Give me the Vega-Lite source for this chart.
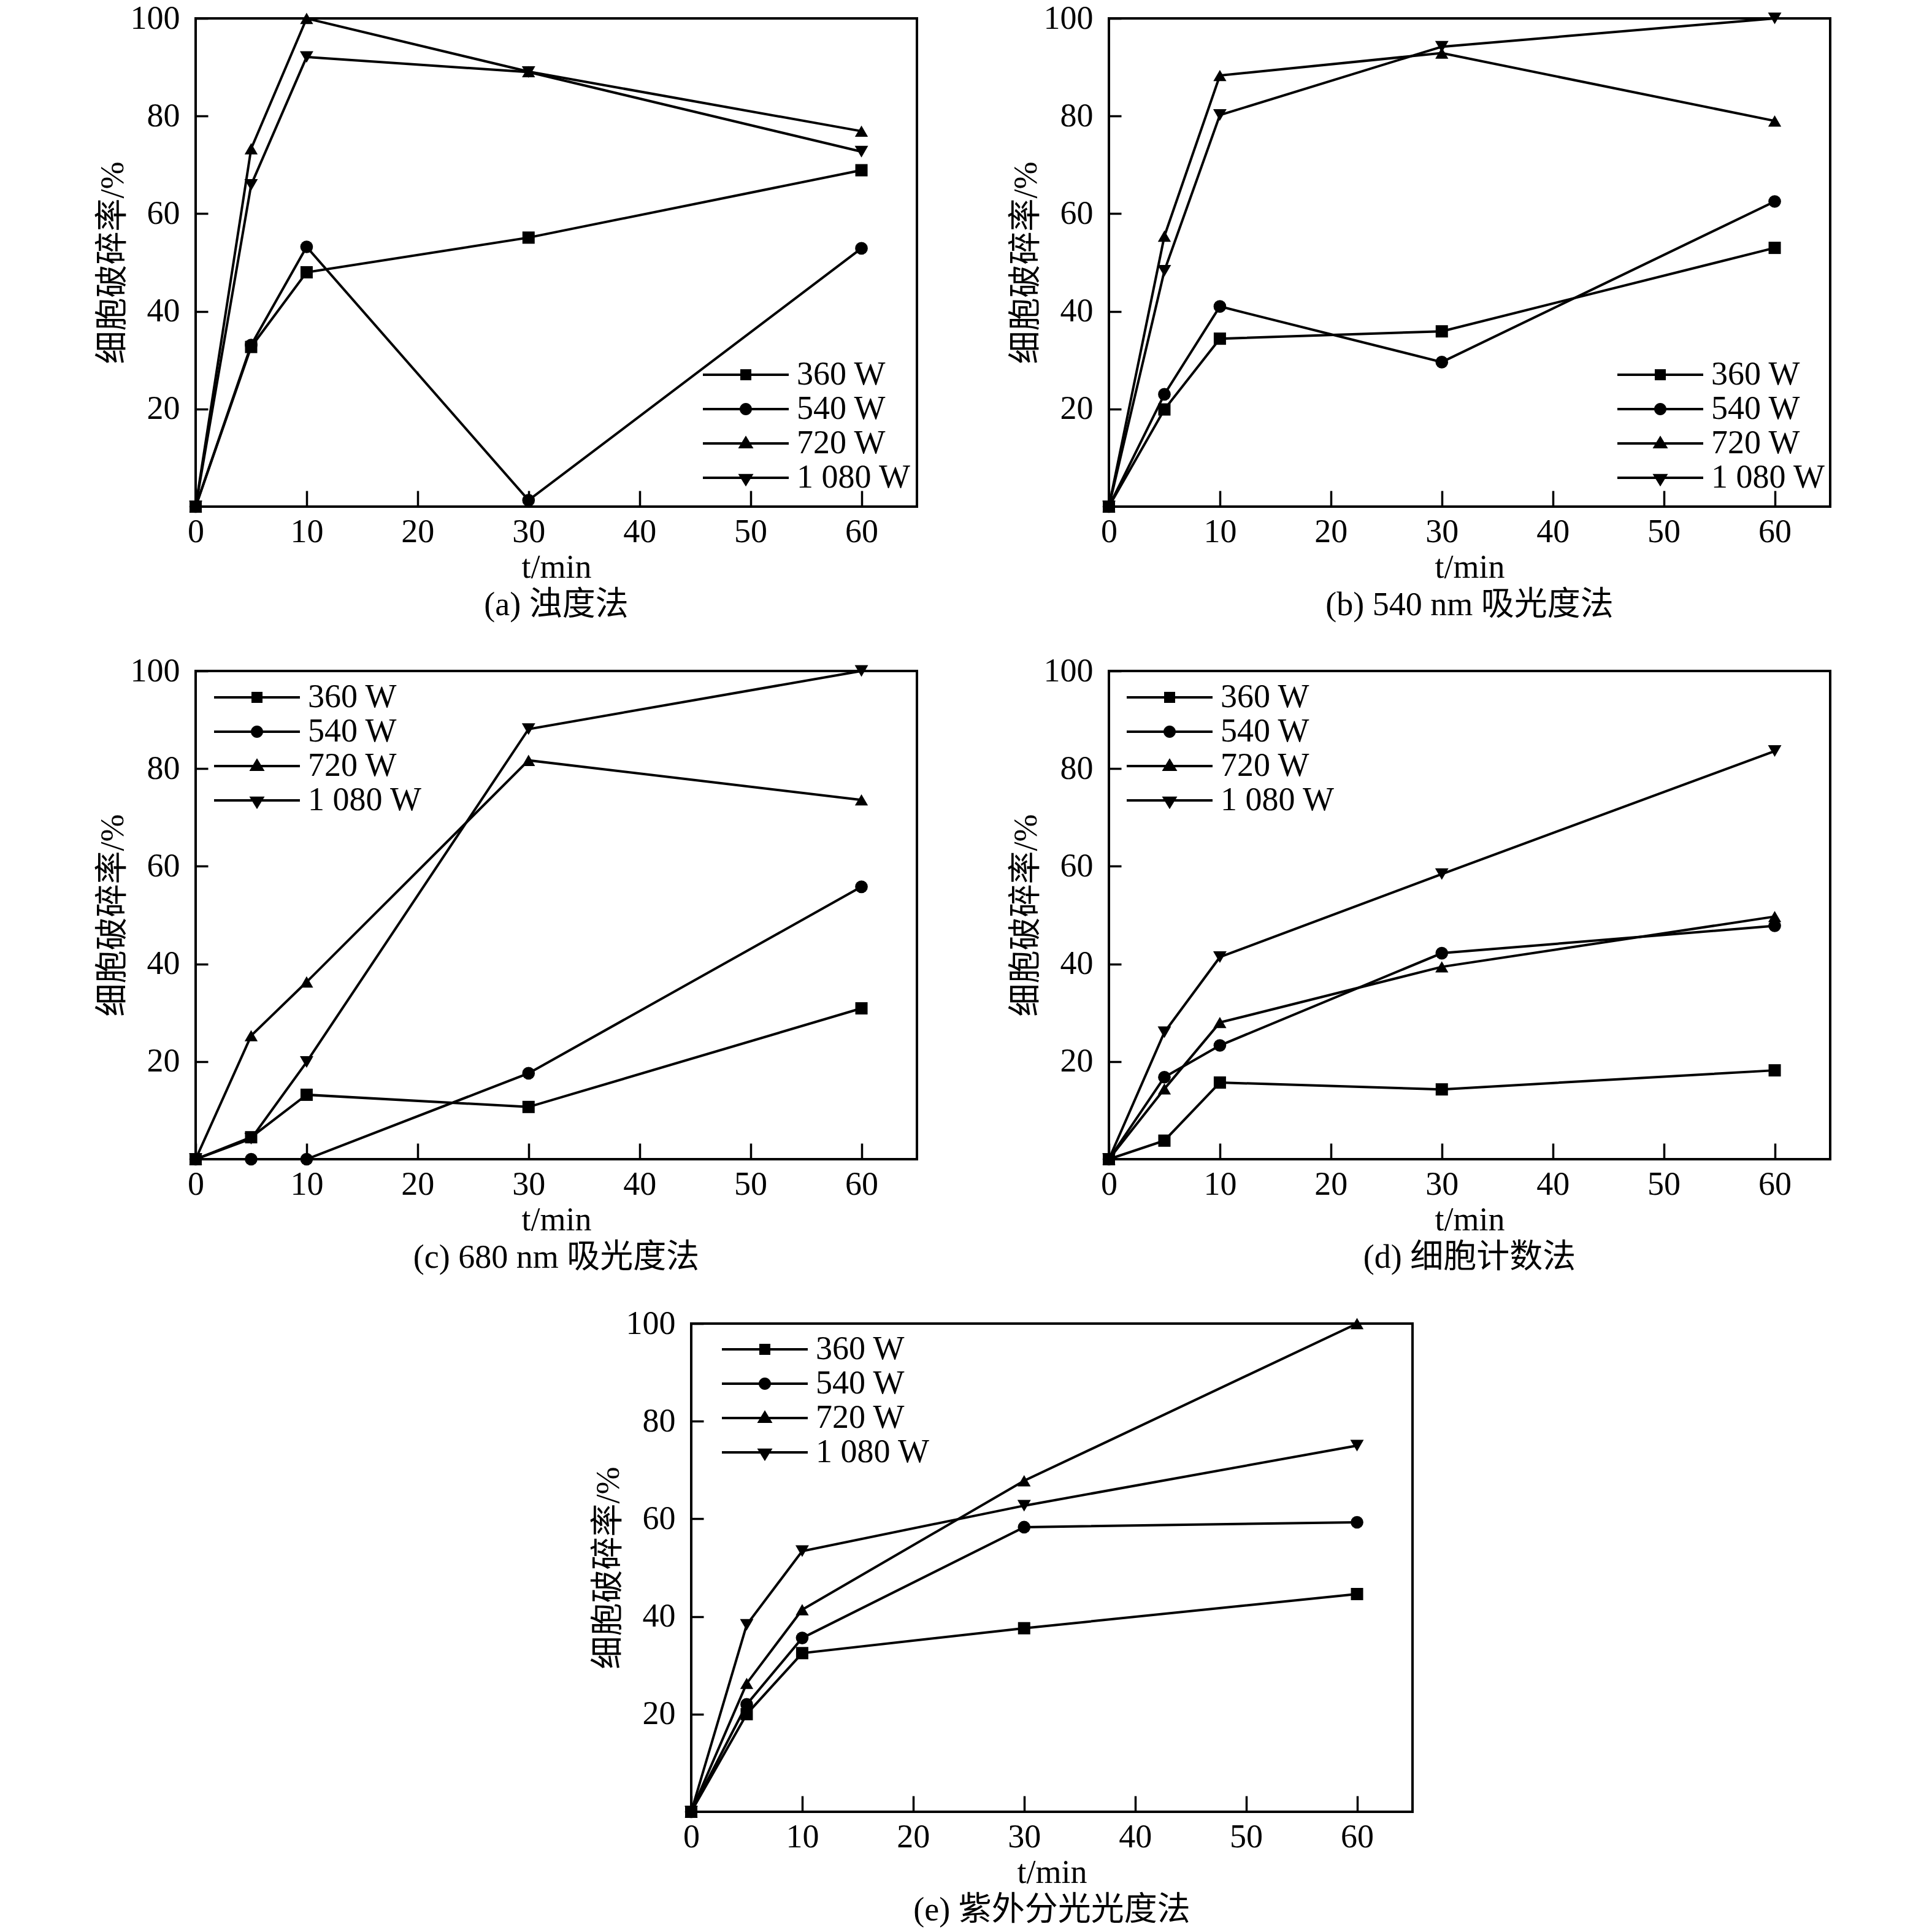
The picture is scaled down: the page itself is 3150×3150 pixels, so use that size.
{
"$schema":"https://vega.github.io/schema/vega-lite/v6.json",
"padding":{"left":155,"top":1,"right":5,"bottom":5},
"datasets":{"d":[
{"p":"a","s":"360 W","t":0,"v":0},{"p":"a","s":"360 W","t":5,"v":32.7},{"p":"a","s":"360 W","t":10,"v":48.0},{"p":"a","s":"360 W","t":30,"v":55.1},{"p":"a","s":"360 W","t":60,"v":68.9},
{"p":"a","s":"540 W","t":0,"v":0},{"p":"a","s":"540 W","t":5,"v":33.1},{"p":"a","s":"540 W","t":10,"v":53.2},{"p":"a","s":"540 W","t":30,"v":1.3},{"p":"a","s":"540 W","t":60,"v":52.9},
{"p":"a","s":"720 W","t":0,"v":0},{"p":"a","s":"720 W","t":5,"v":73.3},{"p":"a","s":"720 W","t":10,"v":100},{"p":"a","s":"720 W","t":30,"v":89.1},{"p":"a","s":"720 W","t":60,"v":76.9},
{"p":"a","s":"1 080 W","t":0,"v":0},{"p":"a","s":"1 080 W","t":5,"v":65.9},{"p":"a","s":"1 080 W","t":10,"v":92.1},{"p":"a","s":"1 080 W","t":30,"v":89.0},{"p":"a","s":"1 080 W","t":60,"v":72.7},
{"p":"b","s":"360 W","t":0,"v":0},{"p":"b","s":"360 W","t":5,"v":19.9},{"p":"b","s":"360 W","t":10,"v":34.4},{"p":"b","s":"360 W","t":30,"v":35.9},{"p":"b","s":"360 W","t":60,"v":53.0},
{"p":"b","s":"540 W","t":0,"v":0},{"p":"b","s":"540 W","t":5,"v":23.0},{"p":"b","s":"540 W","t":10,"v":41.0},{"p":"b","s":"540 W","t":30,"v":29.6},{"p":"b","s":"540 W","t":60,"v":62.5},
{"p":"b","s":"720 W","t":0,"v":0},{"p":"b","s":"720 W","t":5,"v":55.4},{"p":"b","s":"720 W","t":10,"v":88.3},{"p":"b","s":"720 W","t":30,"v":92.9},{"p":"b","s":"720 W","t":60,"v":79.0},
{"p":"b","s":"1 080 W","t":0,"v":0},{"p":"b","s":"1 080 W","t":5,"v":48.3},{"p":"b","s":"1 080 W","t":10,"v":80.2},{"p":"b","s":"1 080 W","t":30,"v":94.2},{"p":"b","s":"1 080 W","t":60,"v":100},
{"p":"c","s":"360 W","t":0,"v":0},{"p":"c","s":"360 W","t":5,"v":4.5},{"p":"c","s":"360 W","t":10,"v":13.2},{"p":"c","s":"360 W","t":30,"v":10.7},{"p":"c","s":"360 W","t":60,"v":30.9},
{"p":"c","s":"540 W","t":0,"v":0},{"p":"c","s":"540 W","t":5,"v":0},{"p":"c","s":"540 W","t":10,"v":0},{"p":"c","s":"540 W","t":30,"v":17.6},{"p":"c","s":"540 W","t":60,"v":55.8},
{"p":"c","s":"720 W","t":0,"v":0},{"p":"c","s":"720 W","t":5,"v":25.3},{"p":"c","s":"720 W","t":10,"v":36.3},{"p":"c","s":"720 W","t":30,"v":81.7},{"p":"c","s":"720 W","t":60,"v":73.6},
{"p":"c","s":"1 080 W","t":0,"v":0},{"p":"c","s":"1 080 W","t":5,"v":4.2},{"p":"c","s":"1 080 W","t":10,"v":19.9},{"p":"c","s":"1 080 W","t":30,"v":88.1},{"p":"c","s":"1 080 W","t":60,"v":100},
{"p":"d","s":"360 W","t":0,"v":0},{"p":"d","s":"360 W","t":5,"v":3.8},{"p":"d","s":"360 W","t":10,"v":15.7},{"p":"d","s":"360 W","t":30,"v":14.3},{"p":"d","s":"360 W","t":60,"v":18.2},
{"p":"d","s":"540 W","t":0,"v":0},{"p":"d","s":"540 W","t":5,"v":16.8},{"p":"d","s":"540 W","t":10,"v":23.3},{"p":"d","s":"540 W","t":30,"v":42.2},{"p":"d","s":"540 W","t":60,"v":47.8},
{"p":"d","s":"720 W","t":0,"v":0},{"p":"d","s":"720 W","t":5,"v":14.4},{"p":"d","s":"720 W","t":10,"v":28.0},{"p":"d","s":"720 W","t":30,"v":39.4},{"p":"d","s":"720 W","t":60,"v":49.7},
{"p":"d","s":"1 080 W","t":0,"v":0},{"p":"d","s":"1 080 W","t":5,"v":26.0},{"p":"d","s":"1 080 W","t":10,"v":41.4},{"p":"d","s":"1 080 W","t":30,"v":58.4},{"p":"d","s":"1 080 W","t":60,"v":83.6},
{"p":"e","s":"360 W","t":0,"v":0},{"p":"e","s":"360 W","t":5,"v":20.0},{"p":"e","s":"360 W","t":10,"v":32.5},{"p":"e","s":"360 W","t":30,"v":37.6},{"p":"e","s":"360 W","t":60,"v":44.6},
{"p":"e","s":"540 W","t":0,"v":0},{"p":"e","s":"540 W","t":5,"v":22.0},{"p":"e","s":"540 W","t":10,"v":35.6},{"p":"e","s":"540 W","t":30,"v":58.3},{"p":"e","s":"540 W","t":60,"v":59.3},
{"p":"e","s":"720 W","t":0,"v":0},{"p":"e","s":"720 W","t":5,"v":26.3},{"p":"e","s":"720 W","t":10,"v":41.4},{"p":"e","s":"720 W","t":30,"v":67.8},{"p":"e","s":"720 W","t":60,"v":100},
{"p":"e","s":"1 080 W","t":0,"v":0},{"p":"e","s":"1 080 W","t":5,"v":38.3},{"p":"e","s":"1 080 W","t":10,"v":53.4},{"p":"e","s":"1 080 W","t":30,"v":62.7},{"p":"e","s":"1 080 W","t":60,"v":75.0}
]},
"spacing":49,
"vconcat":[
{"hconcat":[
{"width":1176,"height":796,"data":{"name":"d"},"transform":[{"filter":"datum.p == 'a'"}],
"title":{"text":"(a) 浊度法"},
"encoding":{"x":{"field":"t","type":"quantitative","scale":{"domain":[0,65],"nice":false,"zero":false},"axis":{"values":[0,10,20,30,40,50,60],"title":"t/min"}},
"y":{"field":"v","type":"quantitative","scale":{"domain":[0,100],"nice":false},"axis":{"values":[20,40,60,80,100],"title":"细胞破碎率/%"}}},
"layer":[
{"mark":{"type":"line","color":"black","strokeWidth":4},"encoding":{"detail":{"field":"s"}}},
{"mark":{"type":"point","filled":true,"color":"black","opacity":1},"encoding":{"shape":{"field":"s","scale":{"domain":["360 W","540 W","720 W","1 080 W"],"range":["square","circle","triangle-up","triangle-down"]},"legend":null},"size":{"field":"s","scale":{"domain":["360 W","540 W","720 W","1 080 W"],"range":[400,480,650,650]},"legend":null}}},
{"mark":{"type":"point","filled":true,"fill":"black","opacity":0},"encoding":{"shape":{"field":"s","scale":{"domain":["360 W","540 W","720 W","1 080 W"],"range":["M-7,-0.2H7V0.2H-7ZM-0.9,-0.9H0.9V0.9H-0.9Z","M-7,-0.2H7V0.2H-7ZM1,0A1,1,0,1,1,-1,0A1,1,0,1,1,1,0Z","M-7,-0.2H7V0.2H-7ZM0,-1.27L1.25,0.8H-1.25Z","M-7,-0.2H7V0.2H-7ZM0,1.43L-1.25,-0.63H1.25Z"]},"legend":{"title":null,"orient":"none","legendX":870,"legendY":554,"encode":{"symbols":{"fill":{"value":"black"},"strokeWidth":{"value":0},"opacity":{"value":1},"size":{"value":400}}}}}}}
],
"resolve":{"scale":{"shape":"independent","size":"independent"},"legend":{"shape":"independent"}}},
{"width":1176,"height":796,"data":{"name":"d"},"transform":[{"filter":"datum.p == 'b'"}],
"title":{"text":"(b) 540 nm 吸光度法"},
"encoding":{"x":{"field":"t","type":"quantitative","scale":{"domain":[0,65],"nice":false,"zero":false},"axis":{"values":[0,10,20,30,40,50,60],"title":"t/min"}},
"y":{"field":"v","type":"quantitative","scale":{"domain":[0,100],"nice":false},"axis":{"values":[20,40,60,80,100],"title":"细胞破碎率/%"}}},
"layer":[
{"mark":{"type":"line","color":"black","strokeWidth":4},"encoding":{"detail":{"field":"s"}}},
{"mark":{"type":"point","filled":true,"color":"black","opacity":1},"encoding":{"shape":{"field":"s","scale":{"domain":["360 W","540 W","720 W","1 080 W"],"range":["square","circle","triangle-up","triangle-down"]},"legend":null},"size":{"field":"s","scale":{"domain":["360 W","540 W","720 W","1 080 W"],"range":[400,480,650,650]},"legend":null}}},
{"mark":{"type":"point","filled":true,"fill":"black","opacity":0},"encoding":{"shape":{"field":"s","scale":{"domain":["360 W","540 W","720 W","1 080 W"],"range":["M-7,-0.2H7V0.2H-7ZM-0.9,-0.9H0.9V0.9H-0.9Z","M-7,-0.2H7V0.2H-7ZM1,0A1,1,0,1,1,-1,0A1,1,0,1,1,1,0Z","M-7,-0.2H7V0.2H-7ZM0,-1.27L1.25,0.8H-1.25Z","M-7,-0.2H7V0.2H-7ZM0,1.43L-1.25,-0.63H1.25Z"]},"legend":{"title":null,"orient":"none","legendX":872,"legendY":554,"encode":{"symbols":{"fill":{"value":"black"},"strokeWidth":{"value":0},"opacity":{"value":1},"size":{"value":400}}}}}}}
],
"resolve":{"scale":{"shape":"independent","size":"independent"},"legend":{"shape":"independent"}}}
],"spacing":313,"bounds":"flush"},
{"hconcat":[
{"width":1176,"height":796,"data":{"name":"d"},"transform":[{"filter":"datum.p == 'c'"}],
"title":{"text":"(c) 680 nm 吸光度法"},
"encoding":{"x":{"field":"t","type":"quantitative","scale":{"domain":[0,65],"nice":false,"zero":false},"axis":{"values":[0,10,20,30,40,50,60],"title":"t/min"}},
"y":{"field":"v","type":"quantitative","scale":{"domain":[0,100],"nice":false},"axis":{"values":[20,40,60,80,100],"title":"细胞破碎率/%"}}},
"layer":[
{"mark":{"type":"line","color":"black","strokeWidth":4},"encoding":{"detail":{"field":"s"}}},
{"mark":{"type":"point","filled":true,"color":"black","opacity":1},"encoding":{"shape":{"field":"s","scale":{"domain":["360 W","540 W","720 W","1 080 W"],"range":["square","circle","triangle-up","triangle-down"]},"legend":null},"size":{"field":"s","scale":{"domain":["360 W","540 W","720 W","1 080 W"],"range":[400,480,650,650]},"legend":null}}},
{"mark":{"type":"point","filled":true,"fill":"black","opacity":0},"encoding":{"shape":{"field":"s","scale":{"domain":["360 W","540 W","720 W","1 080 W"],"range":["M-7,-0.2H7V0.2H-7ZM-0.9,-0.9H0.9V0.9H-0.9Z","M-7,-0.2H7V0.2H-7ZM1,0A1,1,0,1,1,-1,0A1,1,0,1,1,1,0Z","M-7,-0.2H7V0.2H-7ZM0,-1.27L1.25,0.8H-1.25Z","M-7,-0.2H7V0.2H-7ZM0,1.43L-1.25,-0.63H1.25Z"]},"legend":{"title":null,"orient":"none","legendX":73,"legendY":16,"encode":{"symbols":{"fill":{"value":"black"},"strokeWidth":{"value":0},"opacity":{"value":1},"size":{"value":400}}}}}}}
],
"resolve":{"scale":{"shape":"independent","size":"independent"},"legend":{"shape":"independent"}}},
{"width":1176,"height":796,"data":{"name":"d"},"transform":[{"filter":"datum.p == 'd'"}],
"title":{"text":"(d) 细胞计数法"},
"encoding":{"x":{"field":"t","type":"quantitative","scale":{"domain":[0,65],"nice":false,"zero":false},"axis":{"values":[0,10,20,30,40,50,60],"title":"t/min"}},
"y":{"field":"v","type":"quantitative","scale":{"domain":[0,100],"nice":false},"axis":{"values":[20,40,60,80,100],"title":"细胞破碎率/%"}}},
"layer":[
{"mark":{"type":"line","color":"black","strokeWidth":4},"encoding":{"detail":{"field":"s"}}},
{"mark":{"type":"point","filled":true,"color":"black","opacity":1},"encoding":{"shape":{"field":"s","scale":{"domain":["360 W","540 W","720 W","1 080 W"],"range":["square","circle","triangle-up","triangle-down"]},"legend":null},"size":{"field":"s","scale":{"domain":["360 W","540 W","720 W","1 080 W"],"range":[400,480,650,650]},"legend":null}}},
{"mark":{"type":"point","filled":true,"fill":"black","opacity":0},"encoding":{"shape":{"field":"s","scale":{"domain":["360 W","540 W","720 W","1 080 W"],"range":["M-7,-0.2H7V0.2H-7ZM-0.9,-0.9H0.9V0.9H-0.9Z","M-7,-0.2H7V0.2H-7ZM1,0A1,1,0,1,1,-1,0A1,1,0,1,1,1,0Z","M-7,-0.2H7V0.2H-7ZM0,-1.27L1.25,0.8H-1.25Z","M-7,-0.2H7V0.2H-7ZM0,1.43L-1.25,-0.63H1.25Z"]},"legend":{"title":null,"orient":"none","legendX":72,"legendY":16,"encode":{"symbols":{"fill":{"value":"black"},"strokeWidth":{"value":0},"opacity":{"value":1},"size":{"value":400}}}}}}}
],
"resolve":{"scale":{"shape":"independent","size":"independent"},"legend":{"shape":"independent"}}}
],"spacing":313,"bounds":"flush"},
{"hconcat":[
{"width":808,"height":10,"data":{"values":[{"k":1}]},"mark":{"type":"point","opacity":0},"view":{"stroke":null}},
{"width":1176,"height":796,"data":{"name":"d"},"transform":[{"filter":"datum.p == 'e'"}],
"title":{"text":"(e) 紫外分光光度法"},
"encoding":{"x":{"field":"t","type":"quantitative","scale":{"domain":[0,65],"nice":false,"zero":false},"axis":{"values":[0,10,20,30,40,50,60],"title":"t/min"}},
"y":{"field":"v","type":"quantitative","scale":{"domain":[0,100],"nice":false},"axis":{"values":[20,40,60,80,100],"title":"细胞破碎率/%"}}},
"layer":[
{"mark":{"type":"line","color":"black","strokeWidth":4},"encoding":{"detail":{"field":"s"}}},
{"mark":{"type":"point","filled":true,"color":"black","opacity":1},"encoding":{"shape":{"field":"s","scale":{"domain":["360 W","540 W","720 W","1 080 W"],"range":["square","circle","triangle-up","triangle-down"]},"legend":null},"size":{"field":"s","scale":{"domain":["360 W","540 W","720 W","1 080 W"],"range":[400,480,650,650]},"legend":null}}},
{"mark":{"type":"point","filled":true,"fill":"black","opacity":0},"encoding":{"shape":{"field":"s","scale":{"domain":["360 W","540 W","720 W","1 080 W"],"range":["M-7,-0.2H7V0.2H-7ZM-0.9,-0.9H0.9V0.9H-0.9Z","M-7,-0.2H7V0.2H-7ZM1,0A1,1,0,1,1,-1,0A1,1,0,1,1,1,0Z","M-7,-0.2H7V0.2H-7ZM0,-1.27L1.25,0.8H-1.25Z","M-7,-0.2H7V0.2H-7ZM0,1.43L-1.25,-0.63H1.25Z"]},"legend":{"title":null,"orient":"none","legendX":93,"legendY":15,"encode":{"symbols":{"fill":{"value":"black"},"strokeWidth":{"value":0},"opacity":{"value":1},"size":{"value":400}}}}}}}
],
"resolve":{"scale":{"shape":"independent","size":"independent"},"legend":{"shape":"independent"}}}
],"spacing":0,"bounds":"flush"}
],
"config":{
"background":"white",
"view":{"stroke":"black","strokeWidth":4},
"font":"Liberation Serif",
"axis":{"grid":false,"domain":false,"tickColor":"black","tickWidth":3.5,"labelColor":"black","labelFont":"Liberation Serif","labelFontSize":54,"titleColor":"black","titleFont":"Liberation Serif, Noto Sans CJK SC","titleFontSize":54,"titleFontWeight":"normal","labelFlush":false,"labelOverlap":false,"labelBound":false},
"axisX":{"tickSize":-26,"labelPadding":40,"titlePadding":4},
"axisY":{"tickSize":-20,"labelPadding":46,"titlePadding":1},
"legend":{"symbolSize":400,"symbolFillColor":"black","symbolStrokeWidth":0,"symbolOpacity":1,"labelFont":"Liberation Serif","labelFontSize":54,"labelColor":"black","labelOffset":56,"labelLimit":0,"rowPadding":2,"padding":0},
"title":{"font":"Liberation Serif, Noto Sans CJK SC","fontSize":54,"fontWeight":"normal","color":"black","orient":"bottom","anchor":"middle","offset":8}
}
}
